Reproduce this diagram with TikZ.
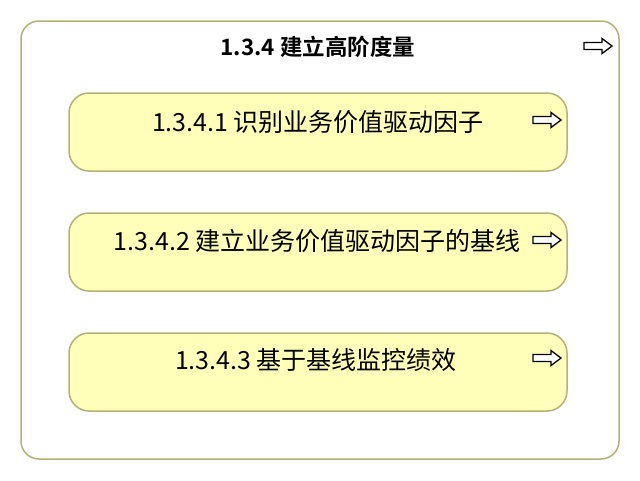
\documentclass[tikz,border=0pt]{standalone}
\usepackage{fontspec}
\setmainfont{Noto Sans CJK SC}
\newfontfamily\cjkbold{Noto Sans CJK SC Bold}
\begin{document}
\begin{tikzpicture}[x=1pt,y=-1pt,
  outerbox/.style={line width=1.5pt, rounded corners=18pt, fill=white},
  taskbox/.style={line width=1.5pt, rounded corners=20pt, minimum width=498pt, minimum height=78pt},
  tasklabel/.style={font=\fontsize{25}{30}\selectfont, text=black},
  arrowicon/.style={draw=black, line width=1.3pt, fill=white}
]
\useasboundingbox (0,0) rectangle (640,480);
\definecolor{boxline}{RGB}{178,178,120}
\definecolor{boxfill}{RGB}{255,255,185}
\draw[outerbox, draw=boxline] (21,21) rectangle (619,459);
\node[font=\cjkbold\fontsize{22.5}{26}\selectfont] (title) at (318,47) {1.3.4 建立高阶度量};
\node[taskbox, draw=boxline, fill=boxfill] (t1) at (318,132) {};
\node[taskbox, draw=boxline, fill=boxfill] (t2) at (318,252) {};
\node[taskbox, draw=boxline, fill=boxfill] (t3) at (318,372) {};
\node[tasklabel] (l1) at (318,122) {1.3.4.1 识别业务价值驱动因子};
\node[tasklabel] (l2) at (317,241) {1.3.4.2 建立业务价值驱动因子的基线};
\node[tasklabel] (l3) at (316,360) {1.3.4.3 基于基线监控绩效};
\foreach \n/\cx/\cy in {a0/598/46, a1/547/120, a2/547/240, a3/547/358}{
  \coordinate (\n) at (\cx,\cy);
  \draw[arrowicon] ([shift={(-14,-3.5)}]\n) -- ([shift={(4,-3.5)}]\n) -- ([shift={(4,-7.5)}]\n) -- ([shift={(14,0)}]\n) -- ([shift={(4,7.5)}]\n) -- ([shift={(4,3.5)}]\n) -- ([shift={(-14,3.5)}]\n) -- cycle;
}
\end{tikzpicture}
\end{document}
